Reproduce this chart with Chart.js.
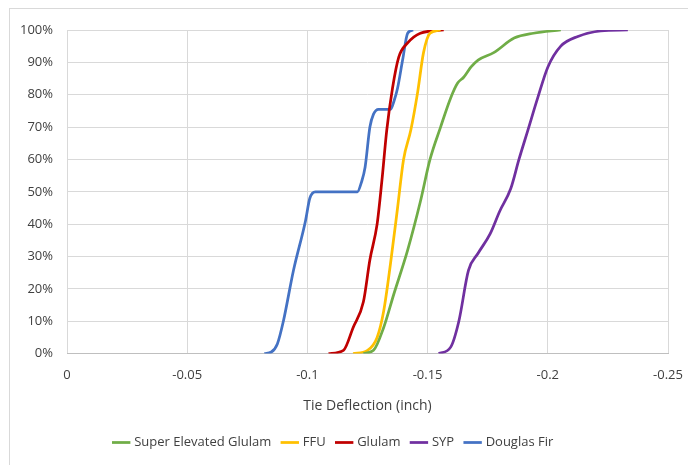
<!DOCTYPE html>
<html>
<head>
<meta charset="utf-8">
<script src="https://cdn.jsdelivr.net/npm/chart.js@4/dist/chart.umd.min.js"></script>
<style>
  body { margin: 0; background: #fff; }
  #wrap { position: relative; width: 688px; height: 465px; }
  #frame { position: absolute; left: 9px; top: 8px; width: 700px; height: 480px; border: 1px solid #d9d9d9; }
  canvas { position: absolute; left: 0; top: 0; }
</style>
</head>
<body>
<div id="wrap">
  <div id="frame"></div>
  <canvas id="cdfChart" width="688" height="465"></canvas>
</div>
<script>
// Valeurs (déflexion en pouces, cumul en %)
const seriesNames = ["Super Elevated Glulam", "FFU", "Glulam", "SYP", "Douglas Fir"];
const seriesColors = ["#70AD47", "#FFC000", "#C00000", "#7030A0", "#4472C4"];

const segX = [-0.1233, -0.1275, -0.1317, -0.136, -0.1417, -0.147, -0.151, -0.1554, -0.1596, -0.1625, -0.165, -0.168, -0.171, -0.1775, -0.186, -0.194, -0.2054];
const segY = [0, 1, 8, 18.5, 32, 47, 60, 70, 79, 83.6, 85.4, 88.5, 90.7, 93, 97.5, 99, 100];

const ffuX = [-0.119, -0.125, -0.129, -0.1317, -0.1346, -0.1375, -0.14, -0.143, -0.1458, -0.1483, -0.151, -0.1554];
const ffuY = [0, 1, 5, 13, 28, 45, 60, 69, 80.5, 93, 99, 100];

const glulamX = [-0.1088, -0.115, -0.119, -0.1233, -0.126, -0.129, -0.131, -0.133, -0.1354, -0.138, -0.1417, -0.147, -0.1567];
const glulamY = [0, 1, 8, 16, 29, 40, 53.5, 69, 82, 91.6, 96, 99, 100];

const sypX = [-0.1546, -0.1596, -0.163, -0.167, -0.171, -0.176, -0.18, -0.1846, -0.188, -0.1917, -0.1958, -0.2, -0.2054, -0.2125, -0.222, -0.2333];
const sypY = [0, 2, 10, 25.7, 31, 37, 44, 51, 60, 69, 79, 88.5, 95, 98, 99.7, 100];

const dfX = [-0.0821, -0.085, -0.0875, -0.09, -0.0942, -0.0992, -0.101, -0.1033, -0.11, -0.1208, -0.1225, -0.124, -0.126, -0.1275, -0.1296, -0.1346, -0.136, -0.1375, -0.1396, -0.1417, -0.144];
const dfY = [0, 0.5, 3, 10, 25.7, 41, 48, 50, 50, 50, 53, 57.6, 70, 74, 75.5, 75.5, 78, 82, 90.7, 99, 100];

const xTickLabels = ["0", "-0.05", "-0.1", "-0.15", "-0.2", "-0.25"];
const yTickLabels = ["0%", "10%", "20%", "30%", "40%", "50%", "60%", "70%", "80%", "90%", "100%"];

const allX = [segX, ffuX, glulamX, sypX, dfX];
const allY = [segY, ffuY, glulamY, sypY, dfY];

const datasets = seriesNames.map((name, i) => ({
    label: name,
    data: allX[i].map((x, j) => ({ x: x, y: allY[i][j] })),
    borderColor: seriesColors[i],
    backgroundColor: seriesColors[i],
    borderWidth: 2.75,
    pointRadius: 0,
    showLine: true,
    cubicInterpolationMode: "monotone"
}));

const font = { family: "'Open Sans', sans-serif", size: 13 };

new Chart(document.getElementById("cdfChart"), {
    type: "scatter",
    data: { datasets: datasets },
    options: {
        responsive: false,
        animation: false,
        layout: { padding: { top: 30, right: 20, left: 0, bottom: 6 } },
        scales: {
            x: {
                min: -0.25,
                max: 0,
                reverse: true,
                grid: { color: "#d9d9d9", drawTicks: false },
                border: { color: "#bfbfbf" },
                afterFit: (scale) => { scale.paddingRight = 0; scale.paddingLeft = 0; },
                ticks: {
                    stepSize: 0.05,
                    padding: 14,
                    color: "#404040",
                    font: font,
                    callback: (v) => xTickLabels[Math.round(-v / 0.05)]
                },
                title: {
                    display: true,
                    text: "Tie Deflection (inch)",
                    color: "#404040",
                    font: { family: font.family, size: 14 },
                    padding: { top: 0, bottom: 10 }
                }
            },
            y: {
                min: 0,
                max: 100,
                grid: { color: "#d9d9d9", drawTicks: false },
                border: { display: false },
                afterFit: (scale) => { scale.width = 67; },
                ticks: {
                    stepSize: 10,
                    padding: 14,
                    color: "#404040",
                    font: font,
                    callback: (v) => yTickLabels[Math.round(v / 10)]
                }
            }
        },
        plugins: {
            legend: {
                position: "bottom",
                labels: {
                    usePointStyle: true,
                    pointStyle: "line",
                    boxWidth: 30,
                    padding: 12,
                    color: "#404040",
                    font: font
                }
            },
            tooltip: { enabled: false }
        }
    }
});
</script>
</body>
</html>
